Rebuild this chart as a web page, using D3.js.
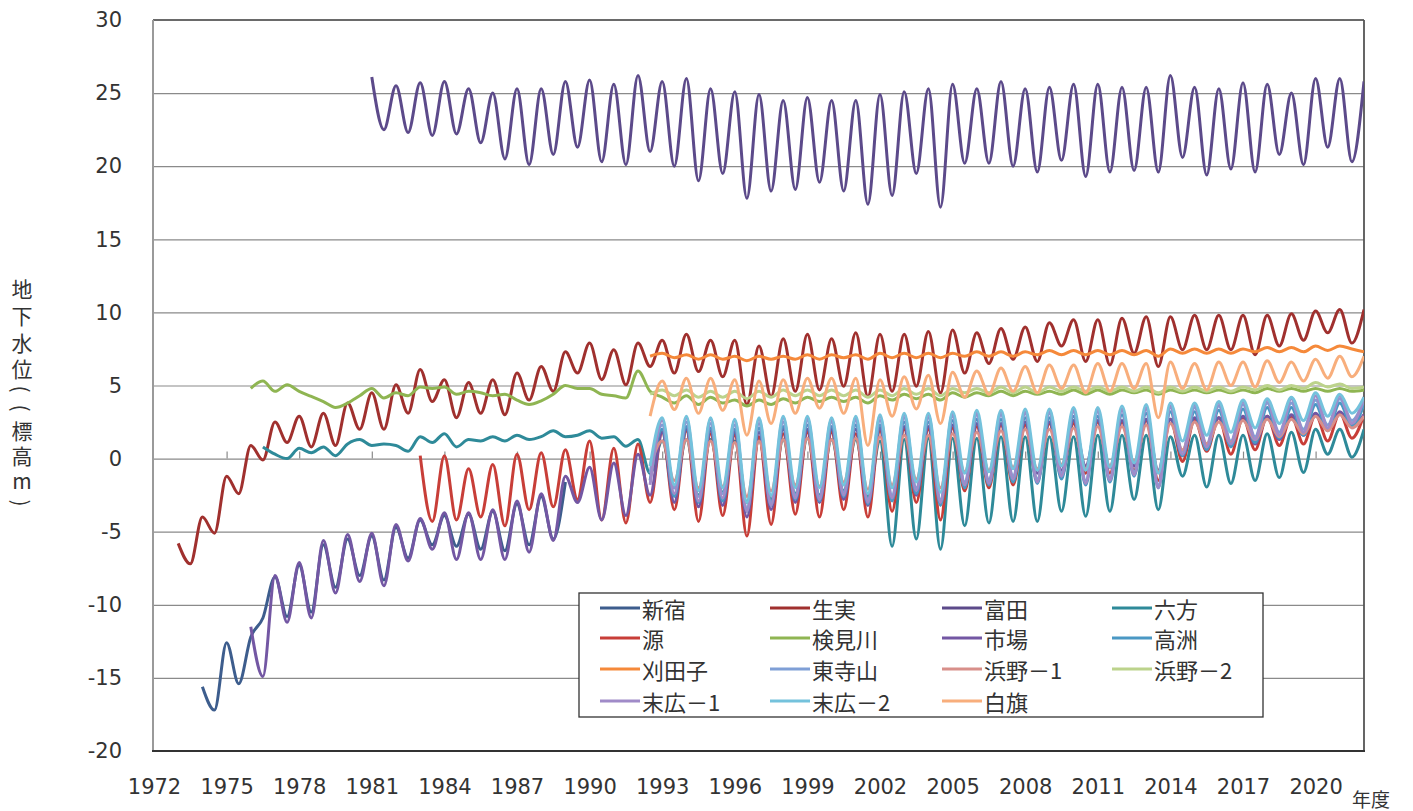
<!DOCTYPE html>
<html><head><meta charset="utf-8">
<script src="https://cdn.jsdelivr.net/npm/d3@7"></script>
<style>
body{margin:0;background:#fff;}
svg{display:block;}
</style>
</head><body>
<svg id="chart" width="1413" height="811"></svg>
<script>
// ---------------- DATA (semiannual readings: value k at start + k*0.5 fiscal years) ----------------
const seriesNames = ["新宿","生実","富田","六方","源","検見川","市場","高洲","刈田子","東寺山","浜野－1","浜野－2","末広－1","末広－2","白旗"];
const yTicks = [-20,-15,-10,-5,0,5,10,15,20,25,30];
const xTickLabels = [1972,1975,1978,1981,1984,1987,1990,1993,1996,1999,2002,2005,2008,2011,2014,2017,2020];

const shinjukuStart = 1974;
const shinjuku = [
 -15.6,-17.2, -12.6,-15.4, -12.2,-10.9, -8.1,-10.8, -7.3,-10.5,
 -5.9,-8.8, -5.5,-8.0, -5.3,-8.3, -4.7,-6.8, -4.2,-5.9,
 -3.9,-6.0, -3.8,-6.2, -3.6,-6.3, -3.1,-5.9, -2.6,-5.5,
 -1.6];

const oyumiStart = 1973;
const oyumi = [
 -5.8,-7.2, -4.0,-5.1, -1.2,-2.4, 0.9,-0.1, 2.5,1.1,
 2.9,0.8, 3.1,0.9, 3.8,2.0, 4.5,2.0, 5.05,3.1,
 6.1,3.9, 5.4,2.8, 5.2,3.1, 5.4,3.0, 5.85,4.0,
 6.3,4.6, 7.3,5.85, 7.9,5.4, 7.45,5.05, 7.9,6.3,
 8.1,5.85, 8.5,5.95, 8.1,5.6, 8.1,3.7, 7.7,4.25,
 8.2,4.6, 8.5,4.7, 8.2,4.95, 8.6,4.25, 8.5,4.6,
 8.5,4.95, 8.7,4.5, 8.8,5.85, 8.6,6.5, 8.9,6.8,
 9.0,6.65, 9.3,7.7, 9.5,6.65, 9.5,6.4, 9.6,7.2,
 9.7,6.3, 9.7,7.45, 9.8,7.45, 9.8,7.45, 9.8,7.1,
 9.8,7.7, 9.9,8.1, 10.1,8.6, 10.2,7.9, 10.2];

const tomitaStart = 1981;
const tomita = [
 26.1,22.5, 25.5,22.3, 25.7,22.1, 25.8,22.2, 25.3,21.6,
 25.0,20.5, 25.3,20.1, 25.3,20.8, 25.8,21.3, 25.9,20.3,
 25.6,20.1, 26.2,21.0, 25.8,20.0, 26.0,19.0, 25.3,19.5,
 25.1,17.8, 24.9,18.3, 24.5,18.4, 24.7,18.9, 24.5,18.3,
 24.5,17.4, 24.9,18.0, 25.1,19.5, 25.3,17.2, 25.6,20.2,
 25.3,20.2, 25.8,20.0, 25.3,19.6, 25.4,20.4, 25.6,19.3,
 25.6,19.6, 25.4,19.7, 25.4,19.6, 26.2,20.6, 25.4,19.4,
 25.3,19.8, 25.7,19.6, 25.6,20.8, 25.0,20.1, 26.0,21.3,
 26.0,20.3, 25.8];

const roppoStart = 1976.5;
const roppo = [
 0.8, 0.3,0.0, 0.7,0.4,
 0.8,0.2, 1.0,1.3, 0.9,1.0, 0.9,0.5, 1.5,1.1,
 1.7,0.8, 1.3,1.2, 1.5,1.2, 1.6,1.3, 1.5,1.9,
 1.5,1.6, 1.9,1.4, 1.5,0.85, 1.3,-1.0, 1.2,-2.0,
 1.3,-2.5, 1.3,-2.3, 1.2,-3.0, 1.3,-2.8, 1.3,-2.4,
 1.4,-2.5, 1.3,-2.2, 1.3,-2.6, 1.2,-6.0, 1.3,-5.5,
 1.4,-6.2, 1.4,-4.6, 1.4,-4.4, 1.5,-4.3, 1.5,-4.3,
 1.5,-3.6, 1.5,-3.95, 1.6,-3.6, 1.6,-2.8, 1.6,-3.5,
 1.5,-1.2, 1.6,-1.95, 1.6,-1.7, 1.6,-1.5, 1.7,-1.3,
 1.8,-0.95, 2.0,0.3, 2.0,0.1, 2.0];

const minamotoStart = 1983;
const minamoto = [
 0.2,-4.3, 0.2,-4.2, -0.7,-4.0, -0.4,-4.6, 0.3,-3.5,
 0.4,-3.3, 0.6,-2.8, 1.2,-4.2, 0.7,-4.4, 1.0,-3.0,
 1.8,-3.5, 1.9,-4.3, 1.7,-3.9, 1.6,-5.3, 1.5,-4.5,
 1.7,-3.8, 1.8,-4.0, 1.8,-3.5, 1.7,-4.0, 1.9,-3.6,
 2.0,-3.0, 2.0,-4.2, 2.1,-2.2, 2.2,-2.0, 2.3,-1.8,
 2.3,-1.5, 2.4,-1.2, 2.4,-1.0, 2.5,-1.0, 2.5,-0.8,
 2.6,-1.5, 2.7,-0.2, 2.7,0.5, 2.8,0.3, 2.8,0.6,
 2.9,0.9, 2.9,1.0, 3.0,1.2, 3.1,1.4, 3.0];

const kemigawaStart = 1976;
const kemigawa = [
 4.8,5.3, 4.6,5.05, 4.6,4.25, 3.9,3.5, 3.8,4.3,
 4.8,4.15, 4.5,4.3, 4.9,4.8, 4.9,4.4, 4.6,4.5,
 4.3,4.4, 4.0,3.7, 3.95,4.4, 5.0,4.8, 4.8,4.4,
 4.3,4.15, 6.0,4.6, 4.2,3.8, 4.3,3.7, 4.2,3.8,
 4.0,3.6, 4.0,3.7, 4.1,3.8, 4.2,3.9, 4.2,3.9,
 4.2,3.8, 4.3,4.0, 4.4,4.1, 4.4,4.0, 4.5,4.2,
 4.5,4.3, 4.6,4.3, 4.6,4.4, 4.6,4.4, 4.7,4.4,
 4.7,4.4, 4.7,4.5, 4.7,4.4, 4.7,4.5, 4.7,4.5,
 4.7,4.5, 4.7,4.5, 4.8,4.6, 4.8,4.6, 4.8,4.6,
 4.8,4.6, 4.7];

const ichibaStart = 1976;
const ichiba = [
 -11.5,-14.9, -8.0,-11.2, -7.1,-10.9, -5.6,-9.2, -5.2,-8.4,
 -5.1,-8.7, -4.5,-7.0, -4.1,-6.2, -3.7,-6.9, -3.7,-6.9,
 -3.5,-6.9, -2.9,-6.4, -2.4,-5.6, -1.2,-3.0, -0.6,-4.2,
 -0.3,-3.9, 0.3,-2.5, 1.8,-3.0, 2.0,-3.3, 1.9,-3.2,
 1.8,-4.0, 1.8,-3.5, 2.0,-3.0, 2.0,-3.0, 2.0,-2.8,
 2.0,-3.2, 2.1,-2.8, 2.2,-2.5, 2.2,-3.0, 2.3,-1.8,
 2.4,-1.5, 2.4,-1.3, 2.5,-1.0, 2.5,-0.8, 2.6,-0.5,
 2.6,-0.6, 2.6,-0.5, 2.7,-0.8, 2.7,0.2, 2.8,0.8,
 2.8,0.9, 2.9,1.0, 2.9,1.3, 3.0,1.6, 3.1,2.0,
 3.2,2.3, 3.0];

const takasuStart = 1992.5;
const takasu = [
 -1.5,
 2.0,-2.6, 2.2,-3.0, 2.1,-2.9, 2.0,-3.6, 2.1,-3.2,
 2.2,-2.8, 2.3,-2.9, 2.2,-2.6, 2.3,-3.1, 2.3,-2.9,
 2.5,-2.4, 2.5,-3.2, 2.6,-2.0, 2.7,-1.8, 2.7,-1.6,
 2.8,-1.7, 2.8,-1.4, 2.9,-1.8, 2.9,-1.6, 3.0,-1.2,
 3.1,-2.0, 3.2,0.2, 3.2,0.6, 3.3,0.8, 3.4,1.1,
 3.5,1.4, 3.5,1.6, 3.7,1.9, 3.8,2.2, 3.7];

const karitagoStart = 1992.5;
const karitago = [
 7.0,
 7.2,6.9, 7.1,6.8, 7.1,6.8, 7.0,6.7, 7.0,6.8,
 7.0,6.8, 7.1,6.8, 7.1,6.9, 7.1,6.8, 7.2,6.9,
 7.2,6.9, 7.2,6.9, 7.2,7.0, 7.3,7.0, 7.3,7.0,
 7.3,7.1, 7.4,7.1, 7.4,7.1, 7.4,7.1, 7.4,7.1,
 7.4,7.0, 7.5,7.2, 7.5,7.2, 7.5,7.2, 7.5,7.3,
 7.6,7.3, 7.6,7.3, 7.7,7.4, 7.7,7.5, 7.3];

const higashiderayamaStart = 1992.5;
const higashiderayama = [
 -1.0,
 2.3,-2.0, 2.5,-2.6, 2.4,-2.4, 2.3,-3.4, 2.4,-3.0,
 2.5,-2.5, 2.6,-2.6, 2.5,-2.3, 2.6,-2.8, 2.6,-2.5,
 2.8,-2.0, 2.8,-2.8, 2.9,-1.6, 3.0,-1.5, 3.0,-1.2,
 3.1,-1.4, 3.1,-1.0, 3.2,-1.5, 3.2,-1.3, 3.3,-0.9,
 3.4,-1.8, 3.5,0.5, 3.5,1.0, 3.6,1.2, 3.7,1.5,
 3.8,1.8, 3.8,2.0, 4.0,2.3, 4.1,2.6, 4.0];

const hamano1Start = 1992.5;
const hamano1 = [
 -0.5,
 1.2,-1.5, 1.3,-2.0, 1.2,-1.9, 1.1,-2.6, 1.2,-2.2,
 1.3,-1.8, 1.4,-1.9, 1.3,-1.6, 1.4,-2.1, 1.5,-1.8,
 1.6,-1.4, 1.6,-2.0, 1.7,-0.9, 1.8,-0.8, 1.9,-0.6,
 2.0,-0.7, 2.0,-0.4, 2.1,-0.7, 2.2,-0.5, 2.2,-0.2,
 2.3,-0.9, 2.4,0.6, 2.5,1.0, 2.5,1.1, 2.6,1.3,
 2.7,1.5, 2.7,1.7, 2.9,1.9, 3.0,2.1, 2.9];

const hamano2Start = 1992.5;
const hamano2 = [
 4.4,
 4.7,4.3, 4.7,4.2, 4.6,4.2, 4.6,4.1, 4.6,4.2,
 4.7,4.3, 4.7,4.3, 4.7,4.3, 4.7,4.2, 4.7,4.3,
 4.8,4.4, 4.8,4.3, 4.8,4.5, 4.8,4.5, 4.9,4.5,
 4.9,4.5, 4.9,4.6, 4.9,4.6, 4.9,4.6, 4.9,4.6,
 4.9,4.5, 4.9,4.6, 4.9,4.6, 4.9,4.6, 4.9,4.7,
 5.0,4.7, 5.0,4.8, 5.2,4.9, 5.1,4.8, 4.9];

const suehiro1Start = 1992.5;
const suehiro1 = [
 -1.8,
 2.6,-2.4, 2.8,-2.9, 2.7,-2.7, 2.6,-3.6, 2.7,-3.2,
 2.8,-2.7, 2.8,-2.8, 2.7,-2.5, 2.8,-3.0, 2.9,-2.7,
 3.0,-2.2, 3.0,-3.0, 3.1,-1.8, 3.1,-1.7, 3.2,-1.4,
 3.2,-1.6, 3.3,-1.2, 3.3,-1.7, 3.4,-1.5, 3.4,-1.1,
 3.5,-2.0, 3.6,0.3, 3.7,0.8, 3.8,1.0, 3.9,1.3,
 4.0,1.6, 4.1,1.8, 4.3,2.1, 4.3,2.4, 4.2];

const suehiro2Start = 1992.5;
const suehiro2 = [
 -0.5,
 2.8,-1.8, 2.9,-2.2, 2.8,-2.0, 2.7,-3.0, 2.8,-2.5,
 2.9,-2.0, 2.9,-2.0, 2.8,-1.8, 2.9,-2.4, 3.0,-2.0,
 3.1,-1.6, 3.1,-2.3, 3.2,-1.0, 3.3,-0.9, 3.3,-0.7,
 3.4,-0.8, 3.4,-0.5, 3.5,-0.8, 3.5,-0.6, 3.6,-0.3,
 3.7,-1.0, 3.8,1.2, 3.8,1.6, 3.9,1.8, 4.0,2.1,
 4.1,2.4, 4.2,2.6, 4.5,2.9, 4.4,3.1, 4.2];

const shirahataStart = 1992.5;
const shirahata = [
 2.9,
 5.3,3.35, 5.5,3.1, 5.5,3.3, 5.4,1.6, 5.3,2.4,
 5.4,3.1, 5.5,3.45, 5.5,3.1, 5.5,0.9, 5.4,2.9,
 5.6,3.4, 5.7,2.4, 5.9,4.2, 6.0,4.4, 6.2,4.6,
 6.3,4.5, 6.4,4.8, 6.4,4.5, 6.5,4.6, 6.5,4.8,
 6.5,2.8, 6.6,4.8, 6.5,4.7, 6.6,5.0, 6.6,4.9,
 6.7,5.2, 6.6,5.3, 6.8,5.5, 7.0,5.6, 7.0];

// table built from the arrays above (drawing order = legend order)
const seriesTable = [
  [shinjukuStart, shinjuku], [oyumiStart, oyumi], [tomitaStart, tomita], [roppoStart, roppo],
  [minamotoStart, minamoto], [kemigawaStart, kemigawa], [ichibaStart, ichiba], [takasuStart, takasu],
  [karitagoStart, karitago], [higashiderayamaStart, higashiderayama], [hamano1Start, hamano1],
  [hamano2Start, hamano2], [suehiro1Start, suehiro1], [suehiro2Start, suehiro2], [shirahataStart, shirahata]
].map(([t0, vals], i) => ({name: seriesNames[i], pts: vals.map((v, k) => [t0 + k * 0.5, v])}));

// ---------------- STYLE / LAYOUT ----------------
const colors = ["#3d5d8d","#a0302e","#5c4a8a","#2e8a99","#c83e38","#8fb552","#7357a3","#4a98c4",
                "#f5893a","#7f9fd6","#d88f8a","#bcd38c","#a08bc8","#74c2dc","#f8ae7c"];
const L = 153, R = 1364, T = 20, B = 751;
const numFont = "'DejaVu Sans', sans-serif";
const jpFont = "'Noto Sans CJK JP', sans-serif";

const svg = d3.select("#chart");
svg.append("rect").attr("width",1413).attr("height",811).attr("fill","#fff");

const x = d3.scaleLinear().domain([1972, 2022]).range([154, R]);
const y = d3.scaleLinear().domain([-20, 30]).range([B, T]);

// gridlines
const grid = svg.append("g").attr("transform",`translate(${L},0)`)
  .call(d3.axisLeft(y).tickValues(yTicks).tickSize(-(R-L)).tickFormat(""));
grid.select(".domain").remove();
grid.selectAll("line").attr("stroke","#8a8a8a").attr("stroke-width",1.2);

// tick marks on the category axis (crosses at 0)
const xt = svg.append("g").attr("transform",`translate(0,${y(0)})`)
  .call(d3.axisTop(x).tickValues(xTickLabels.slice(1)).tickSize(7).tickFormat(""));
xt.select(".domain").remove();
xt.selectAll("line").attr("stroke","#8a8a8a").attr("stroke-width",1.2);

// plot border
svg.append("line").attr("x1",L).attr("x2",R).attr("y1",T).attr("y2",T).attr("stroke","#6a6a6a").attr("stroke-width",1.8);
svg.append("line").attr("x1",R).attr("x2",R).attr("y1",T).attr("y2",B).attr("stroke","#555").attr("stroke-width",1.8);
svg.append("line").attr("x1",L).attr("x2",L).attr("y1",T).attr("y2",B).attr("stroke","#9a9a9a").attr("stroke-width",2);
svg.append("line").attr("x1",L-1).attr("x2",R+1).attr("y1",B).attr("y2",B).attr("stroke","#333").attr("stroke-width",1.8);

// y labels (plain hyphen minus, as in the reference)
const yl = svg.append("g").attr("transform",`translate(${L},0)`)
  .call(d3.axisLeft(y).tickValues(yTicks).tickSize(0).tickPadding(31).tickFormat(d => String(d)));
yl.select(".domain").remove();
yl.selectAll("text").attr("font-family",numFont).attr("font-size",21).attr("fill","#333");

// x labels
const xl = svg.append("g").attr("transform",`translate(0,${B})`)
  .call(d3.axisBottom(x).tickValues(xTickLabels).tickFormat(d => String(d)).tickSize(0).tickPadding(28));
xl.select(".domain").remove();
xl.selectAll("text").attr("font-family",numFont).attr("font-size",21).attr("fill","#333");

// unit label
svg.append("text").attr("x",1352).attr("y",798).attr("dominant-baseline","central")
  .attr("font-family",jpFont).attr("font-size",19).attr("fill","#333").text("年度");

// vertical y title (parentheses rotated as in vertical writing)
const titleChars = [["地",288,0],["下",315,0],["水",342,0],["位",368,0],["(",389,90],["(",408,90],["標",430,0],["高",455,0],["m",480,0],[")",503,90]];
svg.append("g").selectAll("text").data(titleChars).join("text")
  .attr("transform",d=>`translate(22,${d[1]}) rotate(${d[2]})`)
  .attr("text-anchor","middle").attr("dominant-baseline","central")
  .attr("font-family",jpFont).attr("font-size",21).attr("fill","#333").text(d=>d[0]);

// lines
svg.append("clipPath").attr("id","clip").append("rect").attr("x",L).attr("y",T).attr("width",R-L).attr("height",B-T);
const line = d3.line().x(d=>x(d[0])).y(d=>y(d[1])).curve(d3.curveMonotoneX);
svg.append("g").attr("clip-path","url(#clip)").selectAll("path").data(seriesTable).join("path")
  .attr("d",d=>line(d.pts)).attr("fill","none")
  .attr("stroke",(d,i)=>colors[i]).attr("stroke-width",3).attr("stroke-linejoin","round");

// legend
const lg = svg.append("g");
lg.append("rect").attr("x",579).attr("y",593).attr("width",684).attr("height",124)
  .attr("fill","#fff").attr("stroke","#333").attr("stroke-width",1.3);
const colX = [600,770,942,1112], rowY = [608,638,669,701];
const items = lg.selectAll("g.item").data(seriesTable).join("g").attr("class","item")
  .attr("transform",(d,i)=>`translate(${colX[i%4]},${rowY[Math.floor(i/4)]})`);
items.append("line").attr("x1",0).attr("x2",40).attr("y1",0).attr("y2",0)
  .attr("stroke",(d,i)=>colors[i]).attr("stroke-width",3.2);
items.append("text").attr("x",42).attr("y",0).attr("dominant-baseline","central")
  .attr("font-family",jpFont).attr("font-size",22).attr("fill","#333").text(d=>d.name);
</script>
</body></html>
